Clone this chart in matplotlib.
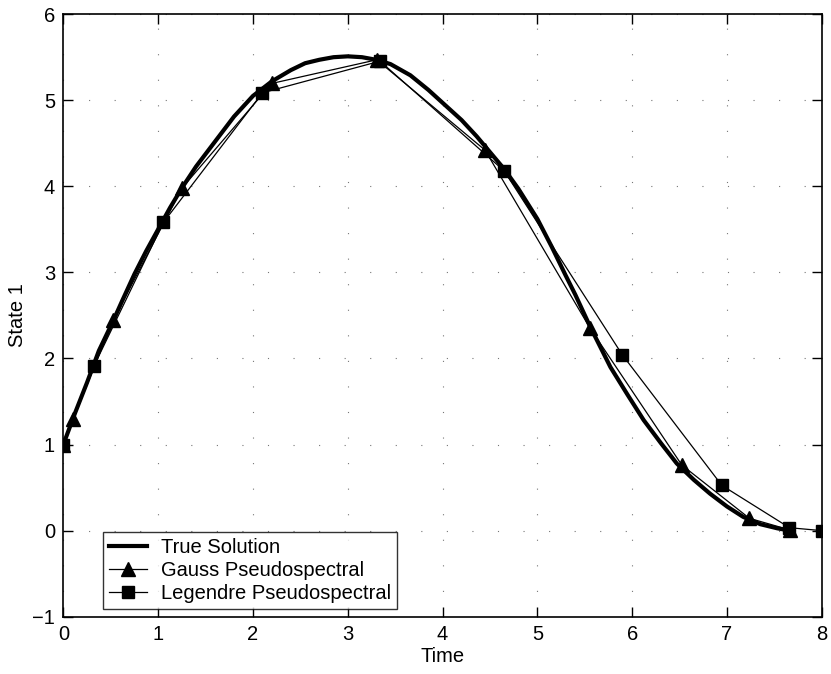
import matplotlib.pyplot as plt

plt.rcParams["font.family"] = ["Liberation Sans", "DejaVu Sans"]

# exact state trajectory
t_true = [0.0, 0.125, 0.25, 0.375, 0.527, 0.625, 0.75, 0.875, 1.0, 1.125, 1.25,
          1.4, 1.6, 1.8, 2.0, 2.2, 2.4, 2.55, 2.7, 2.85, 3.0, 3.15, 3.3, 3.45,
          3.66, 3.85, 4.01, 4.2, 4.36, 4.65, 4.8, 5.0, 5.15, 5.3, 5.4, 5.556,
          5.77, 5.95, 6.12, 6.3, 6.47, 6.65, 6.82, 7.0, 7.17, 7.35, 7.53, 7.666]
x_true = [1.0, 1.37, 1.72, 2.09, 2.44, 2.68, 2.98, 3.25, 3.50, 3.75, 3.98,
          4.23, 4.52, 4.81, 5.05, 5.22, 5.35, 5.43, 5.47, 5.50, 5.51, 5.50, 5.47, 5.42,
          5.29, 5.12, 4.96, 4.77, 4.58, 4.20, 3.97, 3.62, 3.30, 2.96, 2.74, 2.37,
          1.90, 1.58, 1.285, 1.02, 0.78, 0.59, 0.43, 0.28, 0.16, 0.075, 0.027, 0.0]

# Gauss pseudospectral solution (initial point + interior nodes)
t_gauss = [0.0, 0.105, 0.527, 1.249, 2.198, 3.306, 4.448, 5.556, 6.523, 7.236, 7.666]
x_gauss = [1.0, 1.30, 2.446, 3.976, 5.195, 5.47, 4.42, 2.35, 0.762, 0.143, 0.007]

# Legendre pseudospectral solution (LGL nodes)
t_lgl = [0.0, 0.322, 1.055, 2.10, 3.34, 4.649, 5.897, 6.945, 7.658, 8.0]
x_lgl = [1.0, 1.91, 3.58, 5.086, 5.454, 4.18, 2.04, 0.526, 0.034, 0.0]

fig = plt.figure(figsize=(8.31, 6.74), dpi=100)
ax = fig.add_axes([0.0762, 0.085, 0.9128, 0.894])

ax.plot(t_true, x_true, color="black", lw=3.0, label="True Solution")
ax.plot(t_gauss, x_gauss, color="black", lw=0.9, marker="^", ms=10,
        label="Gauss Pseudospectral")
ax.plot(t_lgl, x_lgl, color="black", lw=0.9, marker="s", ms=8,
        label="Legendre Pseudospectral")

ax.set_xlim(0, 8)
ax.set_ylim(-1, 6)
ax.set_xticks(range(0, 9))
ax.set_yticks(range(-1, 7))
ax.grid(True, color="#777777", linestyle=(0, (1, 22)), lw=0.8)
ax.tick_params(direction="in", length=7, width=1, top=True, right=True,
               labelsize=14.5, pad=6)
for s in ax.spines.values():
    s.set_linewidth(1.2)

ax.set_xlabel("Time", fontsize=14.5, labelpad=2)
ax.set_ylabel("State 1", fontsize=14.5, labelpad=4)

leg = ax.legend(loc="lower left", bbox_to_anchor=(0.052, 0.012), fontsize=14.5,
                frameon=True, fancybox=False, edgecolor="black",
                handlelength=1.9, borderpad=0.3, labelspacing=0.22,
                handletextpad=0.7, borderaxespad=0)
leg.get_frame().set_linewidth(1.0)

fig.savefig("out.png", dpi=100)
